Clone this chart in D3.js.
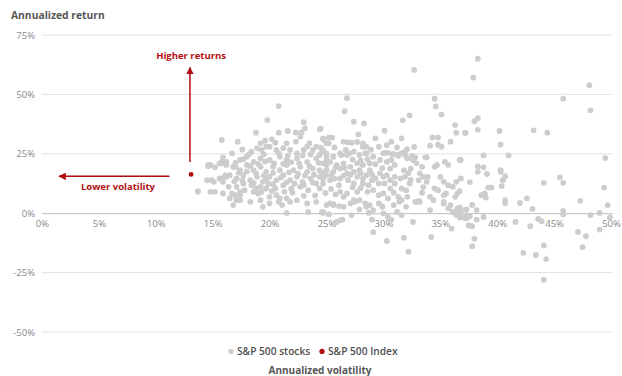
<!DOCTYPE html>
<html>
<head>
<meta charset="utf-8">
<script src="https://cdn.jsdelivr.net/npm/d3@7"></script>
<style>
  html, body { margin: 0; padding: 0; background: #ffffff; }
  svg { display: block; font-family: "Open Sans", "Noto Sans", sans-serif; }
</style>
</head>
<body>
<svg id="chart" width="622" height="376"></svg>
<script>
// Axis ticks (percent)
const xTicks = [0, 5, 10, 15, 20, 25, 30, 35, 40, 45, 50];
const yTicks = [-50, -25, 0, 25, 50, 75];

// S&P 500 Index: [annualized volatility %, annualized return %]
const indexPoint = [13.1, 16.3];

// Individual S&P 500 stocks: [annualized volatility %, annualized return %]
const stocks = [
  // high-return outliers and upper band
  [32.7,60.3],[26.8,48.4],[26.6,42.9],[27.4,38.5],[28.3,37.8],[24.5,35.6],[30.1,34.7],[31.7,39.1],
  [32.3,41.2],[34.5,48.2],[34.6,44.9],[35.1,41.5],[36.3,37.1],[36.4,33.9],[37.2,33.9],[27.8,33.2],
  [29.3,31.5],[24.7,31.5],[25.2,31.9],[25.5,31.8],[25.0,29.4],[25.7,27.7],[26.5,30.1],[26.9,29.8],
  [27.2,29.7],[27.7,30.0],[28.2,29.4],[28.5,28.0],[28.2,28.0],[30.7,30.1],[29.6,28.0],[31.6,31.5],
  [31.2,27.7],[32.1,27.0],[31.9,25.9],[34.3,31.9],[34.8,31.9],[34.1,28.4],[34.8,28.8],[35.1,28.0],
  [35.9,30.1],[24.7,26.6],[27.0,25.2],[28.4,25.2],[30.1,25.4],[30.8,24.9],[31.3,24.1],[32.5,24.1],
  [32.8,23.5],[33.7,23.5],[26.3,24.5],[25.6,23.8],[25.0,24.1],
  // highest volatility stocks
  [38.3,65.0],[37.9,57.1],[48.1,53.9],[45.8,48.2],[48.2,43.3],[38.0,38.7],[38.3,40.0],[37.2,33.8],
  [38.3,35.1],[40.2,34.6],[43.2,34.9],[44.4,33.9],[40.3,28.8],[38.8,24.3],[41.0,24.3],[36.8,22.4],
  [49.5,23.2],[38.3,19.7],[38.8,19.3],[40.3,18.1],[38.3,17.4],[39.1,16.5],[40.3,17.4],[40.7,15.6],
  [40.5,13.9],[36.8,14.6],[37.6,13.1],[39.2,10.8],[39.5,10.8],[40.4,11.4],[38.6,7.6],[38.9,8.3],
  [39.0,6.6],[36.7,9.3],[40.7,5.5],[40.7,4.3],[42.0,4.3],[42.6,6.2],[44.1,12.8],[45.5,15.1],
  [45.8,12.8],[37.8,3.5],[38.2,1.3],[36.7,2.0],[37.3,-0.8],[37.0,-1.8],[37.6,-1.3],[38.2,-2.7],
  [38.8,-1.6],[37.5,-5.2],[37.8,-5.5],[38.0,-10.8],[37.8,-13.9],[41.6,-3.7],[43.1,1.8],[42.9,-5.5],
  [43.6,-2.4],[43.9,-3.4],[42.3,-16.7],[43.4,-17.6],[44.1,-13.6],[44.3,-19.3],[44.1,-28.0],[45.8,1.0],
  [45.8,-0.5],[47.3,5.2],[48.2,-0.8],[49.0,0.1],[49.4,10.8],[49.7,3.4],[49.9,-1.8],[47.1,-7.9],
  [47.8,-9.7],[47.5,-14.3],[49.0,-6.9],
  // negative and near-zero returns, 25%-37% volatility
  [29.1,-8.0],[30.3,-11.7],[31.8,-10.3],[32.2,-16.2],[32.6,-3.7],[34.2,-10.0],[36.0,-6.5],[26.2,-3.0],
  [26.4,-2.7],[25.9,-3.7],[27.2,-0.8],[25.2,-0.4],[24.6,0.5],[29.0,-2.7],[30.0,-0.1],[30.4,-1.6],
  [30.7,-2.7],[31.6,-0.8],[31.2,0.5],[34.1,1.3],[36.1,0.5],[36.4,-0.8],[36.7,-1.8],[37.3,-2.2],
  [37.5,-5.1],[25.6,3.8],[26.1,3.0],[27.5,4.8],[27.9,1.6],[28.5,2.7],[28.7,0.1],[29.1,1.3],
  [29.9,3.0],[30.9,3.4],[31.4,4.8],[32.0,2.7],[32.9,4.8],[33.2,4.8],[35.3,4.1],[35.7,2.0],[36.7,2.4],
  // middle cluster, 24%-37% volatility
  [36.7,22.4],[35.4,21.6],[35.7,20.3],[33.8,23.5],[34.5,19.5],[34.7,20.3],[33.2,16.8],[33.5,15.3],
  [33.9,15.3],[33.1,13.9],[35.0,15.3],[35.3,13.2],[35.7,11.8],[36.1,11.1],[36.4,13.2],[34.5,10.4],
  [34.8,9.7],[35.3,7.6],[35.5,8.3],[36.3,6.9],[36.5,8.3],[35.3,4.8],[35.9,3.4],[36.5,2.0],
  [36.3,0.5],[36.7,-0.1],[36.9,1.3],[37.3,1.6],[32.6,22.4],[32.9,21.0],[33.4,19.5],[32.4,18.8],
  [31.9,24.5],[32.1,23.1],[32.2,16.8],[31.9,15.3],[31.5,14.6],[32.3,12.5],[32.0,9.7],[31.6,10.4],
  [30.9,8.6],[31.3,6.9],[31.6,5.5],[32.1,6.9],[32.8,4.8],[33.1,5.2],[33.4,8.6],[34.1,6.9],
  [34.4,5.5],[33.8,13.2],[30.0,25.2],[30.4,25.4],[30.9,24.9],[31.3,24.5],[31.6,25.2],[29.7,22.4],
  [30.3,21.6],[30.7,22.4],[30.6,18.8],[31.0,20.3],[29.7,16.8],[30.0,15.3],[30.3,16.0],[30.6,13.9],
  [31.0,15.3],[29.6,12.5],[30.1,12.5],[30.6,10.4],[31.0,12.5],[29.1,9.7],[29.6,7.6],[30.0,8.3],
  [30.4,6.2],[27.9,5.5],[28.4,4.1],[28.8,3.4],[29.6,4.1],[29.9,2.7],[27.4,5.5],[27.1,4.1],
  [26.5,2.7],[25.3,4.1],[25.6,3.4],[24.7,0.5],[27.4,12.5],[27.7,9.0],[26.8,8.3],[26.2,9.0],
  [26.5,6.9],[28.2,12.5],[28.7,11.8],[29.0,13.9],[29.3,14.6],[24.4,15.3],[24.9,16.0],[25.3,13.9],
  [25.7,14.6],[24.7,12.5],[24.4,24.5],[25.0,25.2],[25.6,23.8],[26.2,25.2],[26.8,24.5],[27.4,25.9],
  [27.9,24.5],[28.5,25.2],[29.1,23.8],[24.7,21.0],[25.3,21.6],[25.9,20.3],[26.5,21.0],[27.1,19.5],
  [27.7,21.0],[28.2,20.3],[28.8,21.0],[25.0,18.1],[25.6,17.4],[26.2,18.8],[26.8,16.8],[27.4,17.4],
  [27.9,18.1],[28.5,16.0],[26.2,14.6],[26.9,13.9],[27.7,15.3],[28.2,14.6],[28.8,18.1],
  [25.8,19.4],[26.6,19.1],[27.3,22.6],[28.0,22.2],[28.6,22.7],[29.3,20.6],[29.9,19.0],[25.4,16.0],
  [26.5,15.8],[27.1,16.2],[28.0,16.9],[29.0,16.3],[27.3,10.9],[28.0,10.6],[28.6,9.0],[26.1,11.8],
  [25.4,10.2],[25.8,7.9],[24.9,8.5],[26.7,26.6],[28.9,26.7],[30.3,28.6],[32.7,27.9],[31.8,18.0],
  [32.4,14.0],[33.5,11.0],
  // low-volatility cluster, 13%-25% volatility
  [20.8,45.1],[19.8,39.2],[18.8,33.9],[20.8,33.9],[21.6,34.6],[23.0,38.3],[22.3,34.0],[22.8,34.0],
  [23.1,35.7],[24.4,35.3],[15.8,30.8],[17.2,30.1],[19.2,29.4],[19.6,30.5],[20.2,31.1],[20.5,29.7],
  [22.3,30.1],[22.7,32.2],[23.5,29.4],[24.7,31.1],[25.2,29.4],[18.4,25.9],[18.9,27.3],[19.3,26.6],
  [20.0,28.0],[20.6,26.6],[21.2,27.3],[21.8,26.6],[23.0,26.6],[23.8,26.6],[24.6,25.9],[16.7,25.2],
  [15.9,23.5],[14.8,20.3],[17.4,22.4],[18.0,23.8],[18.6,21.6],[19.2,23.1],[20.0,22.4],[20.9,23.8],
  [21.5,22.4],[22.4,23.1],[23.3,21.6],[24.1,23.1],[25.0,22.4],[16.2,20.3],[17.0,19.5],[15.8,21.6],
  [19.7,28.0],[21.5,29.4],[23.3,28.0],[24.1,28.0],[22.4,25.2],
  [14.6,19.8],[15.2,19.3],[15.8,21.0],[16.2,21.6],[14.5,13.9],[15.1,13.2],[15.6,14.6],[16.1,16.0],
  [15.9,13.2],[13.7,9.0],[14.8,9.0],[15.2,9.0],[15.9,8.3],[16.5,6.2],[16.7,8.3],[17.0,7.6],
  [18.3,4.8],[17.4,9.0],[17.8,9.7],[18.6,9.0],[19.0,8.3],[19.3,9.0],[19.7,10.4],[20.6,7.6],
  [20.9,6.2],[20.8,4.8],[21.5,6.2],[21.8,4.8],[21.1,3.4],[21.5,0.1],[23.4,0.5],[24.7,0.1],
  [22.4,5.5],[23.3,4.1],[24.1,4.8],[25.0,3.4],[17.4,5.5],[19.2,5.5],[20.0,6.9],[19.4,2.7],[20.0,4.1],
  [16.8,19.5],[17.4,18.1],[18.0,20.3],[18.6,18.1],[19.2,19.5],[19.7,17.4],[20.3,19.5],[20.9,18.1],
  [21.5,20.3],[22.1,18.1],[22.7,19.5],[23.3,17.4],[23.8,18.8],[24.4,18.1],[25.0,20.3],[16.5,16.0],
  [17.1,14.6],[17.7,16.0],[18.3,13.9],[18.9,15.3],[19.4,13.2],[20.0,15.3],[20.6,13.9],[21.2,16.0],
  [21.8,13.9],[22.4,15.3],[22.9,13.2],[23.6,14.6],[24.1,12.5],[24.7,14.6],[17.1,11.1],[17.7,12.5],
  [18.4,11.8],[19.2,11.1],[19.9,12.5],[20.5,10.4],[21.2,11.8],[21.9,10.4],[22.7,11.1],[23.4,9.7],
  [24.4,10.4],[14.6,20.3],[15.6,21.0],[14.9,13.9],[16.4,11.1],[15.8,14.6],[16.2,15.3],[13.7,9.3],
  [17.1,5.5],[16.8,3.4],[17.4,7.6],
  [17.0,21.2],[17.7,22.8],[18.3,19.8],[19.0,20.8],[19.6,21.8],[20.4,21.0],[21.2,20.8],[21.9,21.5],
  [22.6,21.0],[23.5,19.8],[24.3,21.2],[17.3,17.0],[18.0,17.6],[18.8,16.8],[19.5,15.9],[20.3,17.0],
  [21.0,15.0],[21.7,17.2],[22.5,16.6],[23.1,15.9],[23.9,16.2],[24.6,17.2],[16.9,13.4],[17.6,13.8],
  [18.6,12.6],[19.7,14.4],[20.3,12.2],[21.5,13.0],[22.2,12.4],[23.0,11.9],[23.8,12.9],[22.0,8.6],
  [21.3,9.0],[18.8,10.4],[24.0,7.5],[23.0,7.3],[20.2,9.3],[19.5,24.8],[20.8,25.2],[21.6,24.2],
  [22.9,24.3],[23.6,24.7],[24.5,27.6],[18.2,24.8],[17.6,26.8]
];

const svg = d3.select("#chart");
const x = d3.scaleLinear().domain([0, 50]).range([42, 611]);
const y = d3.scaleLinear().domain([-50, 75]).range([332, 35]);

const darkRed = "#b20d10";
const gray = "#cdcdcd";

// Horizontal gridlines
svg.append("g")
  .selectAll("line")
  .data(yTicks.filter(t => t !== 0))
  .join("line")
  .attr("x1", x(0)).attr("x2", x(50) + 2)
  .attr("y1", d => y(d)).attr("y2", d => y(d))
  .attr("stroke", "#e3e3e3").attr("stroke-width", 1);

// Y tick labels
svg.append("g")
  .selectAll("text")
  .data(yTicks)
  .join("text")
  .attr("x", 35).attr("y", d => y(d) + 3.5)
  .attr("text-anchor", "end")
  .attr("font-size", 9.5).attr("fill", "#8a8a8a")
  .text(d => d + "%");

// Zero baseline with x tick labels below it
const xAxis = d3.axisBottom(x).tickValues(xTicks).tickSize(0).tickPadding(7).tickFormat(d => d + "%");
const gx = svg.append("g").attr("transform", `translate(0,${y(0)})`).call(xAxis);
gx.select(".domain").attr("stroke", "#bdbdbd").attr("d", `M${x(0)},0.5H${x(50) + 2}`);
gx.selectAll("text").attr("font-size", 9.5).attr("fill", "#8a8a8a")
  .attr("font-family", "'Open Sans', 'Noto Sans', sans-serif");

// Stock points
svg.append("g")
  .selectAll("circle")
  .data(stocks)
  .join("circle")
  .attr("cx", d => x(d[0])).attr("cy", d => y(d[1]))
  .attr("r", 2.9)
  .attr("fill", gray);

// Index point
svg.append("circle")
  .attr("cx", x(indexPoint[0])).attr("cy", y(indexPoint[1]))
  .attr("r", 2.4).attr("fill", darkRed);

// Annotation arrows
const defs = svg.append("defs");
defs.append("marker")
  .attr("id", "arrowhead")
  .attr("viewBox", "0 0 10 10")
  .attr("refX", 9).attr("refY", 5)
  .attr("markerWidth", 5).attr("markerHeight", 5)
  .attr("orient", "auto-start-reverse")
  .append("path").attr("d", "M0,0L10,5L0,10z").attr("fill", darkRed);

svg.append("line")
  .attr("x1", x(13.0)).attr("x2", x(13.0))
  .attr("y1", y(21.6)).attr("y2", y(61.3))
  .attr("stroke", darkRed).attr("stroke-width", 1.5)
  .attr("marker-end", "url(#arrowhead)");

svg.append("line")
  .attr("x1", x(11.2)).attr("x2", x(1.5))
  .attr("y1", y(15.5)).attr("y2", y(15.5))
  .attr("stroke", darkRed).attr("stroke-width", 1.5)
  .attr("marker-end", "url(#arrowhead)");

svg.append("text")
  .attr("x", x(13.1)).attr("y", 59)
  .attr("text-anchor", "middle")
  .attr("font-size", 9.5).attr("font-weight", 700).attr("fill", darkRed)
  .text("Higher returns");

svg.append("text")
  .attr("x", 118).attr("y", 190)
  .attr("text-anchor", "middle")
  .attr("font-size", 9.5).attr("font-weight", 700).attr("fill", darkRed)
  .text("Lower volatility");

// Axis titles
svg.append("text")
  .attr("x", 11).attr("y", 19)
  .attr("font-size", 10.3).attr("font-weight", 700).attr("fill", "#575757")
  .text("Annualized return");

svg.append("text")
  .attr("x", 320).attr("y", 374)
  .attr("text-anchor", "middle")
  .attr("font-size", 10).attr("font-weight", 700).attr("fill", "#575757")
  .text("Annualized volatility");

// Legend
const legend = svg.append("g").attr("transform", "translate(0,355)");
const items = [
  { label: "S&P 500 stocks", color: gray, x: 231 },
  { label: "S&P 500 Index", color: darkRed, x: 322 }
];
items.forEach(it => {
  legend.append("circle").attr("cx", it.x).attr("cy", -3.6).attr("r", 2.6).attr("fill", it.color);
  legend.append("text").attr("x", it.x + 6).attr("y", 0)
    .attr("font-size", 10.2).attr("font-weight", 600).attr("fill", "#505050")
    .text(it.label);
});
</script>
</body>
</html>
